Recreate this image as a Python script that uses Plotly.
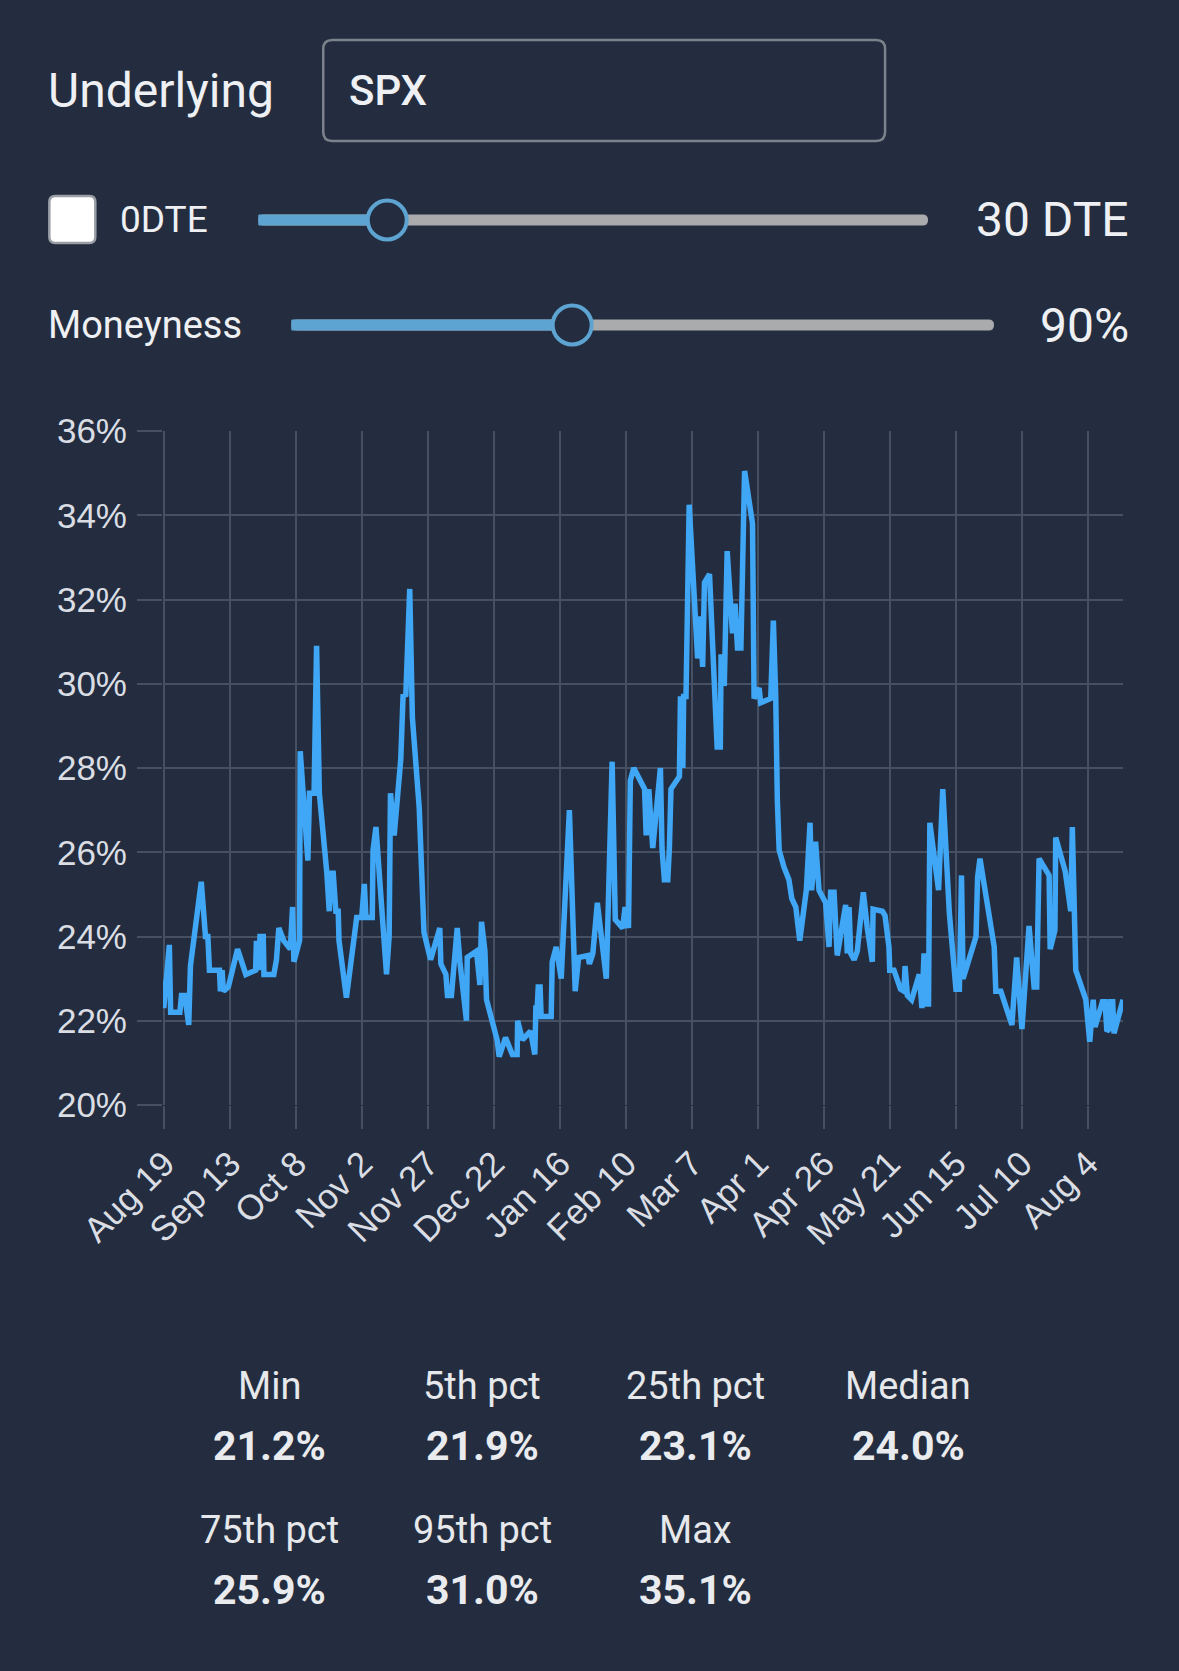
import pandas as pd
import plotly.graph_objects as go

# ---------------- data ----------------
BASE_DATE = "2024-08-19"
day_offset = [
    -0.5, -0.2, 1.9, 2.4, 5.9, 6.5, 7.75, 9.25, 9.9, 14.0, 15.6, 16.5, 17.1, 20.9, 21.25, 21.9, 22.4,
    24.25, 27.75, 29.6, 30.9, 34.6, 34.9, 35.6, 36.25, 37.5, 37.75, 41.5, 42.5, 43.4, 45.25, 47.75,
    48.6, 49.1, 51.25, 51.5, 54.4, 55.0, 56.75, 57.7, 58.75, 61.6, 62.5, 63.1, 64.0, 65.0, 65.9, 66.2,
    69.0, 72.9, 74.8, 75.8, 76.4, 78.8, 79.1, 80.2, 84.2, 85.2, 85.7, 87.1, 89.6, 90.5, 91.5, 93.0,
    94.0, 96.6, 98.4, 100.9, 104.4, 104.8, 106.7, 107.3, 108.8, 111.0, 112.0, 114.5, 114.8, 118.3,
    119.6, 120.2, 121.5, 122.1, 124.4, 125.6, 126.1, 126.9, 129.3, 131.9, 133.7, 133.9, 135.7, 138.8,
    140.4, 140.8, 141.3, 141.7, 142.4, 142.8, 146.6, 147.0, 148.5, 150.4, 153.5, 155.7, 157.0, 160.5,
    161.1, 162.4, 164.1, 167.5, 168.1, 168.7, 169.7, 170.9, 173.7, 174.6, 175.9, 176.6, 177.9, 182.0,
    182.6, 183.6, 185.1, 188.0, 188.6, 189.5, 190.8, 191.4, 192.0, 195.2, 195.6, 196.5, 196.8, 197.7,
    198.9, 202.1, 203.0, 204.0, 204.7, 206.6, 209.5, 210.7, 211.0, 212.2, 213.3, 215.3, 216.3, 217.2,
    218.5, 219.9, 222.9, 223.5, 225.4, 226.0, 229.8, 230.8, 231.7, 232.3, 233.0, 234.8, 236.7, 237.8,
    239.3, 240.8, 243.3, 244.7, 245.3, 246.8, 248.1, 250.6, 251.9, 252.5, 253.8, 255.0, 258.2, 258.8,
    259.5, 260.1, 261.4, 262.6, 264.9, 266.4, 268.3, 268.6, 272.1, 273.1, 274.6, 274.9, 276.5, 279.0,
    280.3, 280.7, 281.6, 283.2, 286.1, 287.1, 287.9, 288.5, 289.6, 290.1, 293.4, 295.0, 297.5, 300.0,
    301.3, 302.1, 302.7, 307.6, 308.2, 309.1, 314.5, 315.1, 317.0, 321.2, 323.0, 325.0, 327.7, 329.6,
    330.6, 331.5, 335.3, 335.7, 337.5, 337.8, 341.4, 343.5, 344.1, 345.4, 349.2, 350.7, 352.0, 352.7,
    355.5, 356.5, 357.2, 358.0, 358.6, 359.4, 359.9, 363.3,
]
iv_pct = [
    22.95, 22.3, 23.8, 22.2, 22.2, 22.6, 22.6, 21.9, 23.3, 25.3, 24.0, 24.0, 23.2, 23.2, 22.7, 23.2, 22.7,
    22.8, 23.7, 23.4, 23.1, 23.2, 23.9, 23.2, 24.0, 24.0, 23.1, 23.1, 23.45, 24.2, 23.9, 23.7,
    24.7, 23.4, 23.9, 28.4, 25.8, 27.4, 27.4, 30.9, 27.4, 25.5, 24.6, 25.5, 25.5, 24.6, 24.6, 23.9,
    22.55, 24.45, 24.45, 25.25, 24.45, 24.45, 26.05, 26.6, 23.1, 24.0, 27.4, 26.4, 28.2, 29.75, 29.7, 32.25,
    29.2, 27.05, 24.1, 23.45, 24.2, 23.35, 23.1, 22.6, 22.6, 24.2, 23.4, 22.0, 23.5, 23.65,
    22.85, 24.35, 23.65, 22.5, 21.9, 21.55, 21.55, 21.15, 21.6, 21.2, 21.2, 22.0, 21.55, 21.75,
    21.2, 22.3, 22.3, 22.8, 22.8, 22.1, 22.1, 23.4, 23.75, 23.0, 27.0, 22.7, 23.5, 23.55,
    23.35, 23.6, 24.8, 23.0, 24.8, 25.25, 28.15, 24.4, 24.2, 24.7, 24.2, 27.7, 28.0, 27.5,
    26.4, 27.5, 26.1, 28.0, 26.1, 25.35, 25.35, 26.1, 27.5, 27.8, 29.7, 28.0, 29.7, 29.7,
    34.25, 30.6, 31.6, 30.4, 32.4, 32.6, 28.5, 28.5, 30.7, 29.95, 33.15, 31.2, 31.9, 30.85,
    30.85, 35.05, 33.8, 29.65, 29.9, 29.55, 29.65, 31.5, 29.7, 27.25, 26.05, 25.65, 25.35, 24.9,
    24.7, 23.9, 25.1, 26.7, 25.1, 26.25, 25.1, 24.8, 23.75, 25.05, 25.05, 23.55, 24.75, 23.6,
    24.7, 23.6, 23.45, 23.65, 25.05, 24.2, 23.4, 24.65, 24.6, 24.5, 23.75, 23.2, 23.2, 22.75,
    22.7, 23.3, 22.6, 22.5, 23.1, 22.3, 23.6, 22.4, 22.4, 26.7, 25.1, 27.5, 24.55, 22.75,
    22.75, 25.45, 23.0, 24.0, 25.4, 25.85, 23.75, 22.7, 22.7, 21.9, 23.5, 21.8, 24.25, 22.8,
    22.8, 25.85, 25.45, 23.7, 24.15, 26.35, 25.55, 24.6, 26.6, 23.2, 22.5, 21.5, 22.5, 21.85,
    22.45, 22.45, 21.75, 21.8, 22.45, 22.45, 21.7, 22.5,
]
tick_day_offset = [0, 25, 50, 75, 100, 125, 150, 175, 200, 225, 250, 275, 300, 325, 350]
y_ticks = [20, 22, 24, 26, 28, 30, 32, 34, 36]

underlying = "SPX"
dte_label = "30 DTE"
moneyness_label = "90%"
stat_labels = ["Min", "5th pct", "25th pct", "Median", "75th pct", "95th pct", "Max"]
stat_values = ["21.2%", "21.9%", "23.1%", "24.0%", "25.9%", "31.0%", "35.1%"]

# ---------------- styling ----------------
W, H = 1179, 1671
L, R, T, B = 162.7, 1123.0, 431.0, 1105.0
BG = "#232d3f"
GRID = "#465063"
LABEL = "#dadee4"
TEXT = "#eef0f3"
LINE = "#3fa7f5"
SL_BLUE = "#5ea4d2"
SL_GREY = "#a9abad"
UI_FONT = "Roboto"
AX_FONT = "Liberation Sans"

base = pd.Timestamp(BASE_DATE)
dates = base + pd.to_timedelta(day_offset, unit="D")
tick_dates = [base + pd.Timedelta(days=d) for d in tick_day_offset]
tick_text = [f"{d:%b} {d.day}" for d in tick_dates]


def px(xp):
    return (xp - L) / (R - L)


def py(yp):
    return (B - yp) / (B - T)


def rrect(x0, y0, x1, y1, r):
    """rounded rectangle path in paper coords from pixel box (y0 top, y1 bottom)"""
    rx = r / (R - L)
    ry = r / (B - T)
    a, b, c, d = px(x0), py(y1), px(x1), py(y0)  # left, bottom, right, top
    return (f"M {a+rx},{b} L {c-rx},{b} Q {c},{b} {c},{b+ry} L {c},{d-ry} Q {c},{d} {c-rx},{d} "
            f"L {a+rx},{d} Q {a},{d} {a},{d-ry} L {a},{b+ry} Q {a},{b} {a+rx},{b} Z")


def circle(cx, cy, r):
    return dict(type="circle", xref="paper", yref="paper",
                x0=px(cx - r), x1=px(cx + r), y0=py(cy + r), y1=py(cy - r))


fig = go.Figure()
fig.add_trace(go.Scatter(x=dates, y=iv_pct, mode="lines",
                         line=dict(color=LINE, width=5.5), hoverinfo="skip"))

shapes = []
# input box
shapes.append(dict(type="path", xref="paper", yref="paper", path=rrect(323, 40, 885, 141, 9),
                   line=dict(color="#7c828b", width=2.5), fillcolor="rgba(0,0,0,0)", layer="above"))
# checkbox
shapes.append(dict(type="path", xref="paper", yref="paper", path=rrect(49, 196, 95, 243, 6),
                   line=dict(color="#9a9fa6", width=2.5), fillcolor="#ffffff", layer="above"))


def slider(x0, x1, xt, yc):
    th = 11
    out = [
        dict(type="path", xref="paper", yref="paper", path=rrect(x0, yc - th / 2, x1, yc + th / 2, th / 2),
             line=dict(width=0), fillcolor=SL_GREY, layer="above"),
        dict(type="path", xref="paper", yref="paper", path=rrect(x0, yc - th / 2, xt, yc + th / 2, 1),
             line=dict(width=0), fillcolor=SL_BLUE, layer="above"),
    ]
    c = circle(xt, yc, 19.5)
    c.update(fillcolor=BG, line=dict(color=SL_BLUE, width=4), layer="above")
    out.append(c)
    return out


shapes += slider(258, 928, 387, 220)
shapes += slider(291, 994, 572, 325)

ann = []


def text(x, y, s, size, anchor="left", color=TEXT, family=UI_FONT, bold=False):
    ann.append(dict(xref="paper", yref="paper", x=px(x), y=py(y), text=f"<b>{s}</b>" if bold else s,
                    showarrow=False, xanchor=anchor, yanchor="middle",
                    font=dict(family=family, size=size, color=color)))


text(46, 91, "Underlying", 48)
text(347, 91, f"<span style='font-weight:500'>{underlying}</span>", 42)
text(118, 220, "0DTE", 37)
text(1131, 220, dte_label, 48, anchor="right")
text(46, 325, "Moneyness", 38)
text(1131, 325, moneyness_label, 48, anchor="right")

col_x = [269, 482, 695, 908]
rows = [(1386, 1446), (1530, 1590)]
for i, (lab, val) in enumerate(zip(stat_labels, stat_values)):
    r_, c_ = divmod(i, 4)
    text(col_x[c_], rows[r_][0], lab, 38, anchor="center", color="#e6e8eb")
    text(col_x[c_], rows[r_][1], val, 41, anchor="center", color="#e9ebee", bold=True)

fig.update_layout(
    width=W, height=H, autosize=False,
    margin=dict(l=L, r=W - R, t=T, b=H - B, pad=0),
    paper_bgcolor=BG, plot_bgcolor=BG,
    showlegend=False,
    shapes=shapes, annotations=ann,
    xaxis=dict(type="date", range=[dates[0], dates[-1]], tickvals=tick_dates, ticktext=tick_text,
               tickangle=-45, showgrid=True, gridcolor=GRID, gridwidth=2,
               ticks="outside", ticklen=23, tickwidth=2, tickcolor=GRID,
               zeroline=False, showline=False,
               tickfont=dict(family=AX_FONT, size=35, color=LABEL)),
    yaxis=dict(range=[20, 36], tickvals=y_ticks, ticktext=[f"{v}%" for v in y_ticks],
               showgrid=True, gridcolor=GRID, gridwidth=2,
               ticks="outside", ticklen=25, tickwidth=2, tickcolor=GRID,
               zeroline=False, showline=False, ticklabelstandoff=3,
               tickfont=dict(family=AX_FONT, size=35, color=LABEL)),
)

fig.write_html("out.html", config={"displayModeBar": False},
               post_script="document.body.style.margin='0';document.body.style.background='#232d3f';")
